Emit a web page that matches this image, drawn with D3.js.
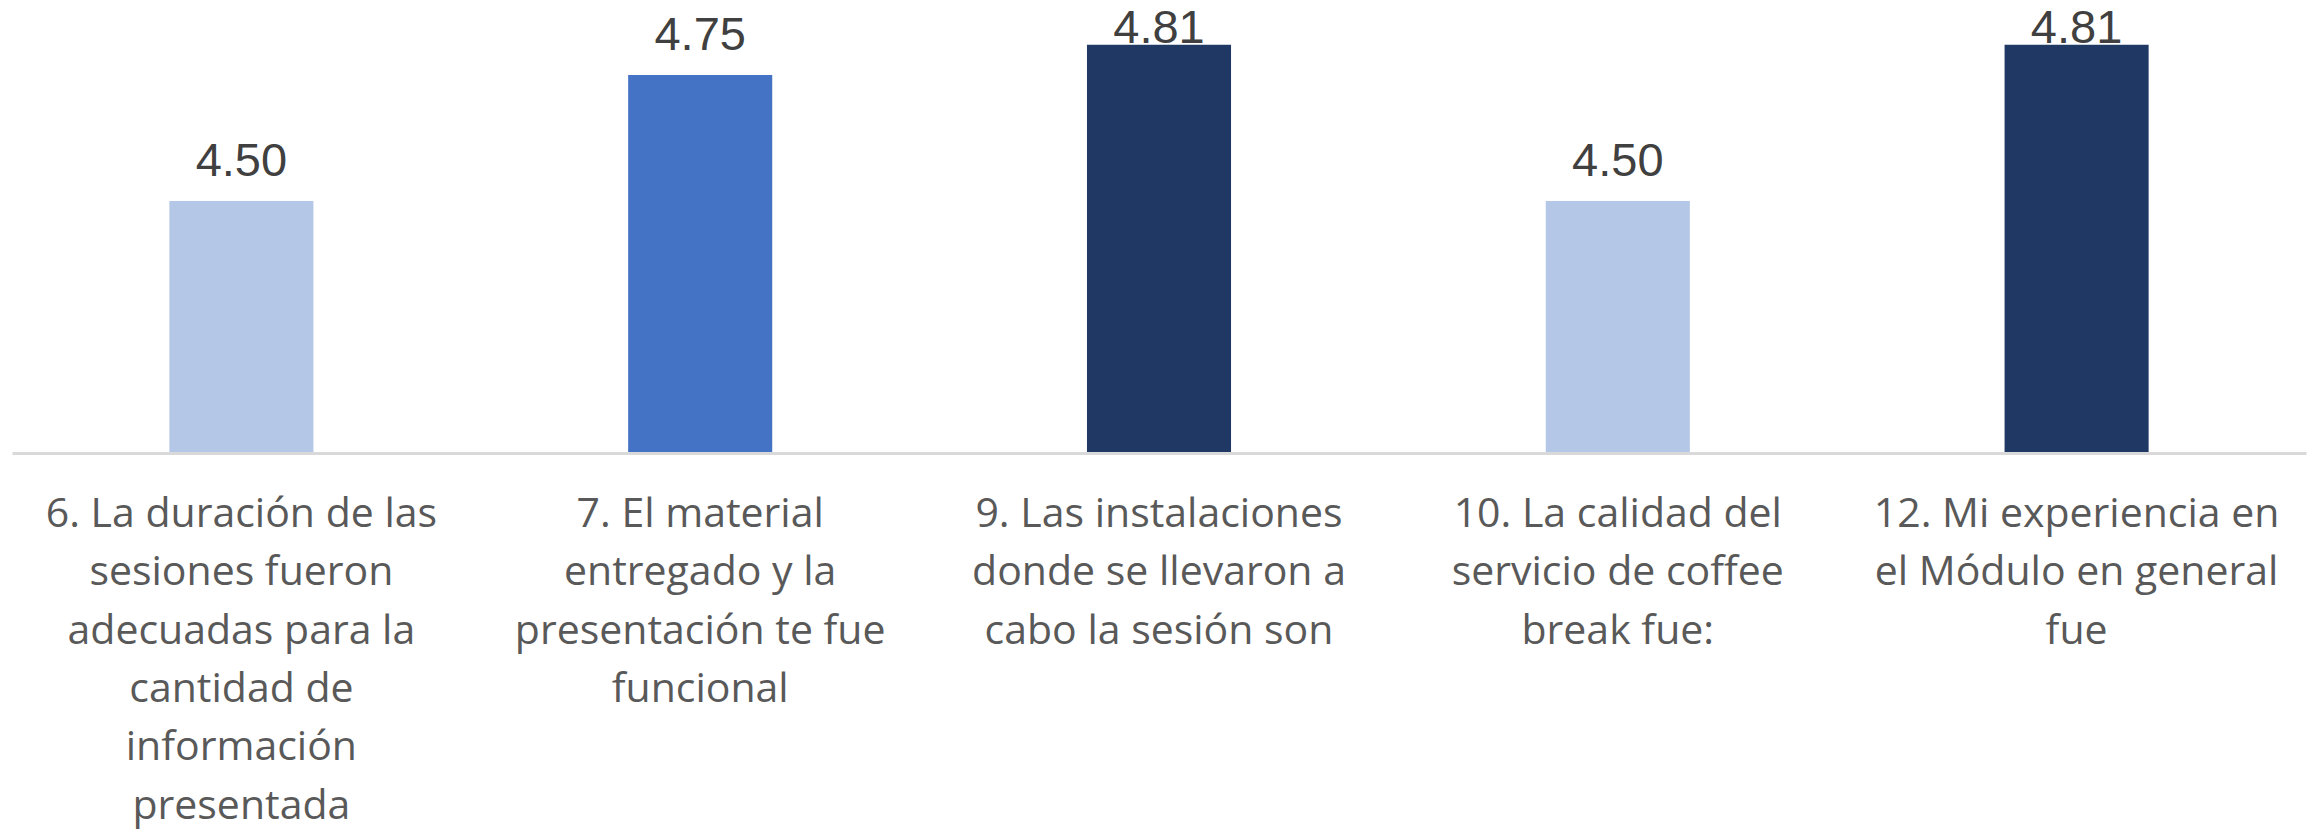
<!DOCTYPE html>
<html>
<head>
<meta charset="utf-8">
<script src="https://cdn.jsdelivr.net/npm/d3@7"></script>
<style>
  html, body { margin: 0; padding: 0; background: #ffffff; }
  svg { display: block; }
</style>
</head>
<body>
<svg id="chart" width="2318" height="832"></svg>
<script>
// ---- data ----
const categories = ["Q6", "Q7", "Q9", "Q10", "Q12"];
const categoryLabelLines = [
  ["6. La duración de las", "sesiones fueron", "adecuadas para la", "cantidad de", "información", "presentada"],
  ["7. El material", "entregado y la", "presentación te fue", "funcional"],
  ["9. Las instalaciones", "donde se llevaron a", "cabo la sesión son"],
  ["10. La calidad del", "servicio de coffee", "break fue:"],
  ["12. Mi experiencia en", "el Módulo en general", "fue"]
];
const values = [4.50, 4.75, 4.81, 4.50, 4.81];
const barColors = ["#B4C7E7", "#4472C4", "#203864", "#B4C7E7", "#203864"];

// ---- layout ----
const svg = d3.select("#chart");
const baseY = 453;
const x = d3.scaleBand()
  .domain(categories)
  .range([12, 2306])
  .paddingInner(0.686)
  .paddingOuter(0.343);
const y = d3.scaleLinear().domain([4, 5]).range([baseY, baseY - 504]);

const data = categories.map((c, i) => ({ c, v: values[i], color: barColors[i], lines: categoryLabelLines[i] }));

// bars
svg.append("g").selectAll("rect")
  .data(data)
  .join("rect")
  .attr("x", d => x(d.c))
  .attr("y", d => y(d.v))
  .attr("width", x.bandwidth())
  .attr("height", d => baseY - y(d.v))
  .attr("fill", d => d.color);

// baseline axis
const axis = d3.axisBottom(x).tickSize(0).tickFormat("");
const axG = svg.append("g").attr("transform", `translate(0,${baseY})`).call(axis);
axG.select(".domain").attr("stroke", "#D9D9D9").attr("stroke-width", 3);

// value labels
svg.append("g").selectAll("text")
  .data(data)
  .join("text")
  .attr("x", d => x(d.c) + x.bandwidth() / 2)
  .attr("y", d => Math.max(y(d.v) - 25, 43))
  .attr("text-anchor", "middle")
  .attr("font-family", "'Liberation Sans', Arial, sans-serif")
  .attr("font-size", 47)
  .attr("fill", "#404040")
  .text(d => d.v.toFixed(2));

// category labels
const lab = svg.append("g").selectAll("text")
  .data(data)
  .join("text")
  .attr("text-anchor", "middle")
  .attr("font-family", "'Open Sans', sans-serif")
  .attr("font-size", 41)
  .attr("fill", "#595959");
lab.selectAll("tspan")
  .data(d => d.lines.map(l => ({ l, cx: x(d.c) + x.bandwidth() / 2 })))
  .join("tspan")
  .attr("x", t => t.cx)
  .attr("y", (t, i) => 527 + i * 58.3)
  .text(t => t.l);
</script>
</body>
</html>
